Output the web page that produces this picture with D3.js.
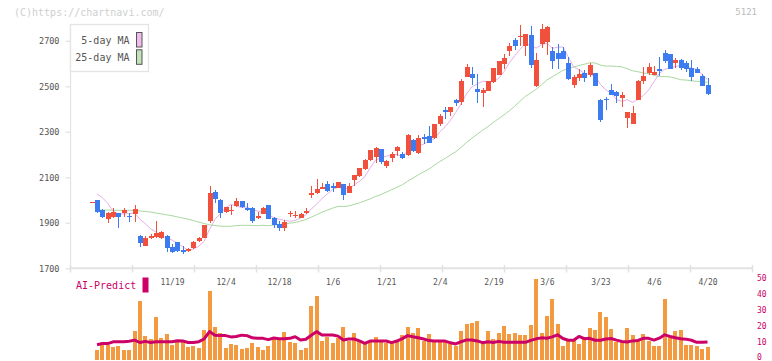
<!DOCTYPE html>
<html><head><meta charset="utf-8">
<script src="https://cdn.jsdelivr.net/npm/d3@7/dist/d3.min.js"></script>
<style>html,body{margin:0;padding:0;background:#fff;}svg{display:block;}</style>
</head><body>
<script>
// ---- data ----
const dates = ["10/28","10/29","10/30","10/31",
"11/4","11/5","11/6","11/7","11/10","11/11","11/12","11/13","11/14","11/17","11/18","11/19","11/20","11/21","11/25","11/26","11/27","11/28",
"12/1","12/2","12/3","12/4","12/5","12/8","12/9","12/10","12/11","12/12","12/15","12/16","12/17","12/18","12/19","12/22","12/23","12/24","12/25","12/26","12/29","12/30",
"1/5","1/6","1/7","1/8","1/9","1/13","1/14","1/15","1/16","1/19","1/20","1/21","1/22","1/23","1/26","1/27","1/28","1/29","1/30",
"2/2","2/3","2/4","2/5","2/6","2/9","2/10","2/12","2/13","2/16","2/17","2/18","2/19","2/20","2/24","2/25","2/26","2/27",
"3/2","3/3","3/4","3/5","3/6","3/9","3/10","3/11","3/12","3/13","3/16","3/17","3/18","3/19","3/23","3/24","3/25","3/26","3/27","3/30","3/31",
"4/1","4/2","4/3","4/6","4/7","4/8","4/9","4/10","4/13","4/14","4/15","4/16","4/17","4/20"];

const xLabels = ["11/19","12/4","12/18","1/6","1/21","2/4","2/19","3/6","3/23","4/6","4/20"];
const priceTicks = [1700,1900,2100,2300,2500,2700];
const rightTicks = [0,10,20,30,40,50];

const open = [1989,2000,1956,1918,1924,1944,1944,1930,1939,1842,
1800,1832,1836,1832,1842,1792,1817,1780,1776,1788,
1821,1834,1908,2037,2000,1949,1954,1974,1996,1964,
1966,1920,1939,1978,1920,1893,1878,1937,1932,1922,
1944,2024,2032,2049,2070,2062,2054,2070,2032,2088,
2107,2138,2176,2190,2224,2151,2186,2217,2202,2198,
2264,2208,2276,2282,2271,2334,2397,2387,2440,2430,
2542,2554,2488,2472,2480,2518,2550,2598,2655,2703,
2717,2677,2726,2501,2686,2696,2655,2648,2655,2604,
2506,2538,2560,2550,2560,2440,2442,2484,2476,2450,
2362,2334,2440,2523,2557,2550,2576,2648,2642,2604,
2616,2604,2579,2576,2545,2506];
const high = [1992,2000,1961,1949,1964,1944,1964,1942,1978,1846,
1842,1851,1908,1863,1846,1806,1817,1798,1788,1822,
1838,1890,2062,2042,2005,1971,1978,2010,1996,1985,
1970,1949,1971,1978,1925,1908,1912,1951,1951,1942,
1964,2062,2092,2073,2083,2073,2078,2070,2073,2110,
2140,2180,2222,2234,2226,2178,2210,2236,2212,2290,
2268,2284,2290,2325,2334,2380,2408,2410,2445,2530,
2600,2586,2554,2494,2525,2582,2611,2642,2689,2711,
2769,2730,2765,2648,2774,2765,2671,2686,2674,2627,
2550,2576,2572,2604,2560,2444,2452,2509,2478,2476,
2386,2413,2528,2586,2604,2589,2630,2660,2642,2626,
2620,2610,2616,2586,2554,2535];
const low = [1988,1942,1920,1900,1922,1878,1924,1905,1905,1792,
1800,1830,1834,1830,1773,1768,1773,1763,1773,1786,
1815,1834,1900,1988,1920,1942,1934,1970,1966,1954,
1900,1918,1939,1915,1878,1864,1864,1924,1920,1920,
1937,2010,2025,2047,2036,2036,2052,2002,2030,2060,
2100,2130,2172,2161,2160,2142,2168,2192,2180,2195,
2212,2202,2246,2250,2268,2326,2358,2370,2415,2420,
2540,2505,2428,2410,2478,2515,2548,2576,2633,2660,
2677,2634,2582,2498,2668,2638,2576,2576,2620,2528,
2494,2524,2520,2540,2502,2344,2396,2462,2425,2410,
2318,2334,2440,2510,2550,2550,2545,2601,2576,2580,
2570,2565,2524,2557,2502,2462];
const close = [1991,1949,1924,1942,1949,1927,1956,1924,1961,1810,
1832,1842,1854,1861,1790,1773,1777,1773,1785,1817,
1832,1890,2030,2003,1944,1968,1958,1996,1968,1956,
1908,1930,1966,1917,1890,1878,1905,1944,1936,1939,
1952,2032,2049,2059,2041,2052,2078,2024,2062,2110,
2140,2176,2220,2227,2166,2173,2202,2234,2186,2286,
2216,2274,2267,2252,2334,2370,2388,2408,2428,2525,
2586,2538,2476,2484,2523,2579,2611,2626,2677,2677,
2723,2730,2594,2615,2752,2760,2612,2620,2620,2532,
2541,2554,2538,2594,2502,2352,2438,2462,2457,2462,
2386,2381,2523,2545,2584,2564,2567,2612,2576,2616,
2582,2576,2542,2557,2502,2466];

// moving averages before enough closes are on the chart
const ma5Head = [null,2027,2010,1986];
const ma25Head = [null,1956,1956,1956,1955,1955,1955,1955,1954,1952,1950,1947,1943,1939,1935,1931,1926,1921,1916,1910,1903,1897,1891,1888];

const volume = [null,5.3,8.4,8.4,7.0,7.8,5.3,5.3,17.2,35.9,
14.1,12.2,25.9,12.8,15.3,8.4,10.9,10.9,7.2,7.8,
6.6,17.8,42.2,19.7,15.9,6.6,9.1,8.4,5.9,6.6,
9.7,7.2,5.3,7.8,12.2,12.2,16.6,10.3,9.7,5.3,
6.6,32.8,39.1,10.9,13.4,9.7,12.8,19.7,10.9,15.9,
11.6,9.7,10.9,13.4,10.9,9.7,10.9,11.6,14.7,19.7,
15.9,19.1,10.9,15.3,10.3,10.3,10.3,9.1,7.8,17.2,
21.6,22.2,23.4,10.3,17.2,12.2,15.9,20.3,15.3,15.9,
14.7,14.7,20.9,49.9,15.9,26.6,37.2,21.6,7.8,11.6,
11.6,9.1,13.4,19.1,17.8,29.1,25.9,18.4,10.3,9.7,
19.1,14.7,10.9,15.3,10.9,7.8,7.8,37.2,13.4,17.2,
17.8,8.4,8.4,7.8,5.9,7.2];

const aiPredict = [null,8.6,9.4,9.3,10.4,10.5,10.5,10.8,11.5,10.0,
10.7,10.0,10.5,10.5,10.5,10.5,11.1,11.0,10.0,10.0,
10.5,12.2,16.8,14.6,14.3,14.3,13.5,13.8,14.6,14.3,
12.9,12.6,12.6,11.8,12.8,12.4,12.4,12.6,13.6,11.6,
12.0,14.5,16.8,14.7,14.7,14.7,14.0,11.6,12.2,12.2,
11.0,9.5,10.9,10.9,10.9,10.9,9.9,10.9,12.4,14.3,
13.6,13.0,12.2,11.2,10.9,10.9,10.9,9.8,9.1,10.5,
11.6,11.6,11.0,9.9,10.5,10.0,10.7,10.1,10.1,10.1,
10.1,10.1,11.3,12.3,12.9,12.7,13.5,14.8,12.5,11.4,
11.4,13.8,12.4,12.6,11.4,11.4,12.2,12.5,11.5,10.6,
10.3,11.0,11.3,12.6,12.6,11.5,12.7,14.8,13.8,13.0,
12.4,12.1,11.4,10.1,10.1,10.3];

// ---- derived series ----
function movingAvg(n, head) {
  return close.map((c, i) => {
    if (i < head.length) return head[i];
    return d3.mean(close.slice(i - n + 1, i + 1));
  });
}
const ma5 = movingAvg(5, ma5Head);
const ma25 = movingAvg(25, ma25Head);

// ---- drawing ----
const W = 772, H = 361;
const MONO = "'DejaVu Sans Mono', 'Liberation Mono', monospace";
const UP = "#f0503c", DOWN = "#3c7cf0", GRID = "#e2e2e2", TXT = "#555", MAG = "#cc0066";

const svg = d3.select("body").append("svg").attr("width", W).attr("height", H);
svg.append("rect").attr("width", W).attr("height", H).attr("fill", "#fff");

const x = d3.scalePoint().domain(dates).range([91.7, 707.5]);
const y = d3.scaleLinear().domain([1700, 2700]).range([268.3, 40.8]);
const yv = d3.scaleLinear().domain([0, 50]).range([358.5, 278.5]);

// watermark + code
svg.append("text").attr("x", 14).attr("y", 12.7).attr("dy", "0.35em")
  .attr("font-family", MONO).attr("font-size", 10).attr("fill", "#cfcfcf")
  .text("(C)https://chartnavi.com/");
svg.append("text").attr("x", 757).attr("y", 12).attr("dy", "0.35em").attr("text-anchor", "end")
  .attr("font-family", MONO).attr("font-size", 9).attr("fill", "#bbb").text("5121");

// left price axis
const yAxis = svg.append("g").attr("transform", "translate(70.5,0)")
  .call(d3.axisLeft(y).tickValues(priceTicks).tickFormat(d3.format("d")).tickSize(5).tickSizeOuter(0).tickPadding(6));
yAxis.select(".domain").remove();
yAxis.selectAll(".tick line").attr("stroke", GRID).attr("stroke-width", 1.2);
yAxis.selectAll(".tick text").attr("font-family", MONO).attr("font-size", 8.5).attr("fill", TXT);
svg.append("line").attr("x1", 70.5).attr("x2", 70.5).attr("y1", 24).attr("y2", 268.3)
  .attr("stroke", GRID).attr("stroke-width", 1.2);

// bottom axis line and evenly spaced tick marks
svg.append("line").attr("x1", 70).attr("x2", 752.5).attr("y1", 268.3).attr("y2", 268.3)
  .attr("stroke", GRID).attr("stroke-width", 2);
svg.append("g").selectAll("line").data(d3.range(12).map(k => 70.5 + 62 * k)).join("line")
  .attr("x1", d => d).attr("x2", d => d).attr("y1", 265).attr("y2", 272.5)
  .attr("stroke", GRID).attr("stroke-width", 1.5);

// date labels
const xAxis = svg.append("g").attr("transform", "translate(0,268.3)")
  .call(d3.axisBottom(x).tickValues(xLabels).tickSize(0).tickSizeOuter(0));
xAxis.select(".domain").remove();
xAxis.selectAll(".tick text").attr("y", 14).attr("dy", "0.35em")
  .attr("font-family", MONO).attr("font-size", 8).attr("fill", TXT);

// moving averages
const idx = d3.range(dates.length);
const maLine = arr => d3.line().defined(i => arr[i] != null).x(i => x(dates[i])).y(i => y(arr[i]));
svg.append("path").attr("d", maLine(ma25)(idx)).attr("fill", "none").attr("stroke", "#a9d8a0").attr("stroke-width", 1);
svg.append("path").attr("d", maLine(ma5)(idx)).attr("fill", "none").attr("stroke", "#e6b0e6").attr("stroke-width", 1);

// candles
const cg = svg.append("g").attr("shape-rendering", "crispEdges");
const candles = cg.selectAll("g").data(idx).join("g");
candles.append("line")
  .attr("x1", i => Math.round(x(dates[i])) + 0.5).attr("x2", i => Math.round(x(dates[i])) + 0.5)
  .attr("y1", i => y(high[i])).attr("y2", i => y(low[i]))
  .attr("stroke", i => close[i] >= open[i] ? UP : DOWN).attr("stroke-width", 1);
candles.append("rect")
  .attr("x", i => Math.round(x(dates[i])) - 2)
  .attr("width", 5)
  .attr("y", i => y(Math.max(open[i], close[i])))
  .attr("height", i => Math.max(1, Math.abs(y(open[i]) - y(close[i]))))
  .attr("fill", i => close[i] >= open[i] ? UP : DOWN);

// legend
svg.append("rect").attr("x", 70.5).attr("y", 24.5).attr("width", 78).attr("height", 47)
  .attr("fill", "#fff").attr("stroke", "#e4e4e4").attr("stroke-width", 1.3);
const legend = [{t: "5-day MA", c: "#f0bcf0", y: 40}, {t: "25-day MA", c: "#c2e2b8", y: 57.3}];
legend.forEach(l => {
  svg.append("text").attr("x", 129.5).attr("y", l.y).attr("dy", "0.35em").attr("text-anchor", "end")
    .attr("font-family", MONO).attr("font-size", 10).attr("fill", TXT).text(l.t);
  svg.append("rect").attr("x", 136.5).attr("y", l.y - 7.5).attr("width", 5.5).attr("height", 14.5)
    .attr("fill", l.c).attr("stroke", "#555").attr("stroke-width", 1);
});

// bottom panel: bars
svg.append("g").attr("shape-rendering", "crispEdges")
  .selectAll("rect").data(idx.filter(i => volume[i] != null)).join("rect")
  .attr("x", i => Math.round(x(dates[i])) - 2)
  .attr("width", 4)
  .attr("y", i => yv(volume[i]))
  .attr("height", i => yv(0) + 1 - yv(volume[i]))
  .attr("fill", "#f39a40");

// AI-Predict line
svg.append("path")
  .attr("d", d3.line().defined(i => aiPredict[i] != null).x(i => x(dates[i])).y(i => yv(aiPredict[i]))(idx))
  .attr("fill", "none").attr("stroke", MAG).attr("stroke-width", 3).attr("stroke-linejoin", "round");

// right axis
const rAxis = svg.append("g").attr("transform", "translate(756,0)")
  .call(d3.axisRight(yv).tickValues(rightTicks).tickSize(0).tickPadding(1));
rAxis.select(".domain").remove();
rAxis.selectAll(".tick text").attr("font-family", MONO).attr("font-size", 8).attr("fill", MAG)
  .attr("dy", "0.3em");
rAxis.selectAll(".tick").filter(d => d === 0).select("text").attr("y", -1.2);

// AI-Predict label
svg.append("text").attr("x", 76).attr("y", 285.7).attr("dy", "0.35em")
  .attr("font-family", MONO).attr("font-size", 10).attr("fill", MAG).text("AI-Predict");
svg.append("rect").attr("x", 142.5).attr("y", 277.5).attr("width", 6).attr("height", 15).attr("fill", MAG);
</script>
</body></html>
